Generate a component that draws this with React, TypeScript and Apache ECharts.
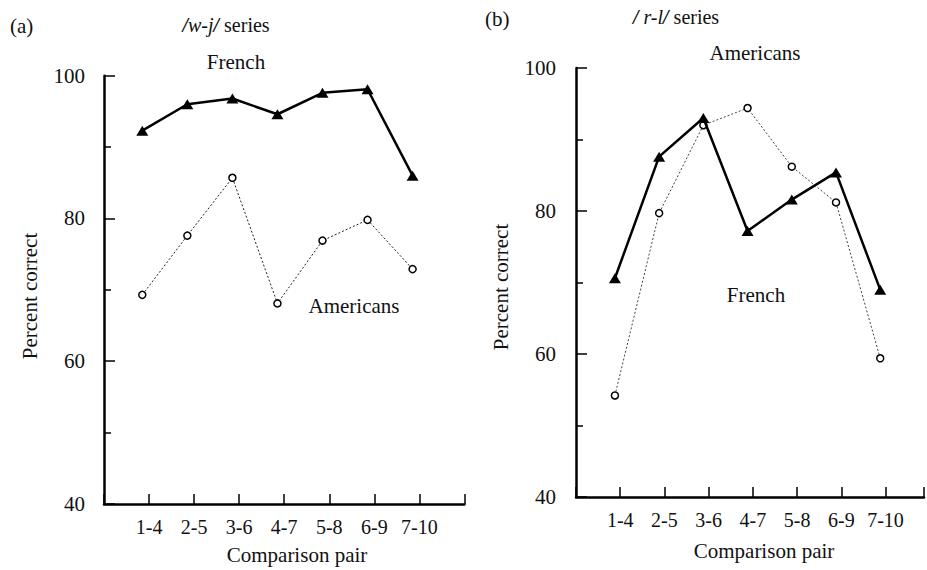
import React, { useEffect, useRef } from "react";
import * as echarts from "echarts";

// ---- data ----
const pairs = ["1-4", "2-5", "3-6", "4-7", "5-8", "6-9", "7-10"];
const yTicks = [40, 60, 80, 100];

// panel (a) /w-j/ series
const wjFrench = [92.3, 96.0, 96.8, 94.6, 97.6, 98.1, 86.0];
const wjAmericans = [69.3, 77.6, 85.7, 68.1, 76.9, 79.8, 72.9];

// panel (b) /r-l/ series
const rlFrench = [70.6, 87.6, 93.0, 77.2, 81.6, 85.4, 69.0];
const rlAmericans = [54.2, 79.7, 92.0, 94.4, 86.2, 81.2, 59.4];

// small horizontal offset of the plotted points relative to the ticks, as in the print
const SHIFT_A = -0.15;
const SHIFT_B = -0.12;

const FONT = '"Liberation Serif", "Times New Roman", Times, serif';
const INK = "#111";

function toPoints(values: number[], shift: number) {
  return values.map((v, i) => [i + 1 + shift, v]);
}

function xAxisCfg(gridIndex: number, max: number) {
  return {
    type: "value",
    gridIndex,
    min: 0,
    max,
    interval: 1,
    splitLine: { show: false },
    axisLine: { onZero: false, lineStyle: { color: "#000", width: 2.5 } },
    axisTick: { inside: true, length: 10, lineStyle: { color: "#000", width: 1.5 } },
    axisLabel: {
      margin: 13,
      fontFamily: FONT,
      fontSize: 20,
      color: INK,
      formatter: (v: number) => {
        const k = Math.round(v);
        return Math.abs(v - k) < 1e-6 && k >= 1 && k <= pairs.length ? pairs[k - 1] : "";
      },
    },
  };
}

function yAxisCfg(gridIndex: number, margin: number) {
  return {
    type: "value",
    gridIndex,
    min: yTicks[0],
    max: yTicks[yTicks.length - 1],
    interval: 20,
    splitLine: { show: false },
    minorSplitLine: { show: false },
    axisLine: { onZero: false, lineStyle: { color: "#000", width: 2.5 } },
    axisTick: { inside: true, length: 11, lineStyle: { color: "#000", width: 1.5 } },
    minorTick: { show: true, splitNumber: 2, length: 7, lineStyle: { color: "#000", width: 1.5 } },
    axisLabel: { margin, fontFamily: FONT, fontSize: 21, color: INK },
  };
}

function frenchSeries(data: number[][], idx: number) {
  return {
    type: "line",
    xAxisIndex: idx,
    yAxisIndex: idx,
    data,
    symbol: "triangle",
    symbolSize: [12, 10],
    itemStyle: { color: "#000" },
    lineStyle: { color: "#000", width: 2.5 },
    z: 4,
  };
}

function americanSeries(data: number[][], idx: number, color: string) {
  return {
    type: "line",
    xAxisIndex: idx,
    yAxisIndex: idx,
    data,
    symbol: "circle",
    symbolSize: 7,
    itemStyle: { color: "#fff", borderColor: "#000", borderWidth: 1.5 },
    lineStyle: { color, width: 1, type: [2, 2] },
    z: 3,
  };
}

function txt(x: number, y: number, text: string, extra: any = {}) {
  const size = extra.size || 21;
  return {
    type: "text",
    x,
    y,
    rotation: extra.rotation || 0,
    style: {
      text,
      font: `${size}px ${FONT}`,
      fill: INK,
      align: extra.align || "center",
      verticalAlign: "middle",
      textAlign: extra.align || "center",
      textVerticalAlign: "middle",
      rich: extra.rich,
    },
  };
}

const titleRich = {
  s: { fontStyle: "italic", fontWeight: "bold", fontSize: 20, fontFamily: FONT, fill: INK },
  i: { fontStyle: "italic", fontSize: 20, fontFamily: FONT, fill: INK },
  n: { fontSize: 20, fontFamily: FONT, fill: INK },
};

export default function App() {
  const ref = useRef<HTMLDivElement>(null);

  useEffect(() => {
    if (!ref.current) return;
    const chart = echarts.init(ref.current, undefined, { renderer: "svg" });
    chart.setOption({
      animation: false,
      backgroundColor: "#fff",
      grid: [
        { left: 104, top: 75.7, width: 360.4, height: 428.3 },
        { left: 576, top: 68, width: 351, height: 429 },
      ],
      xAxis: [xAxisCfg(0, 8), xAxisCfg(1, 7.87)],
      yAxis: [yAxisCfg(0, 19), yAxisCfg(1, 20)],
      series: [
        americanSeries(toPoints(wjAmericans, SHIFT_A), 0, "#222"),
        frenchSeries(toPoints(wjFrench, SHIFT_A), 0),
        americanSeries(toPoints(rlAmericans, SHIFT_B), 1, "#444"),
        frenchSeries(toPoints(rlFrench, SHIFT_B), 1),
      ],
      graphic: [
        txt(10, 26, "(a)", { align: "left" }),
        txt(226, 25, "{s|/}{i|w-j}{s|/}{n| series}", { rich: titleRich, size: 20 }),
        txt(236, 62, "French"),
        txt(354, 306, "Americans"),
        txt(30, 296, "Percent correct", { rotation: Math.PI / 2 }),
        txt(297, 555, "Comparison pair"),

        txt(485, 19, "(b)", { align: "left" }),
        txt(676, 17, "{s|/}{n| }{i|r-l}{s|/}{n| series}", { rich: titleRich, size: 20 }),
        txt(755, 53, "Americans"),
        txt(756, 295, "French"),
        txt(501, 287, "Percent correct", { rotation: Math.PI / 2 }),
        txt(764, 551, "Comparison pair"),
      ],
    });
    return () => chart.dispose();
  }, []);

  return (
    <div
      ref={ref}
      style={{ position: "absolute", left: 0, top: 0, width: 927, height: 570, background: "#fff" }}
    />
  );
}
